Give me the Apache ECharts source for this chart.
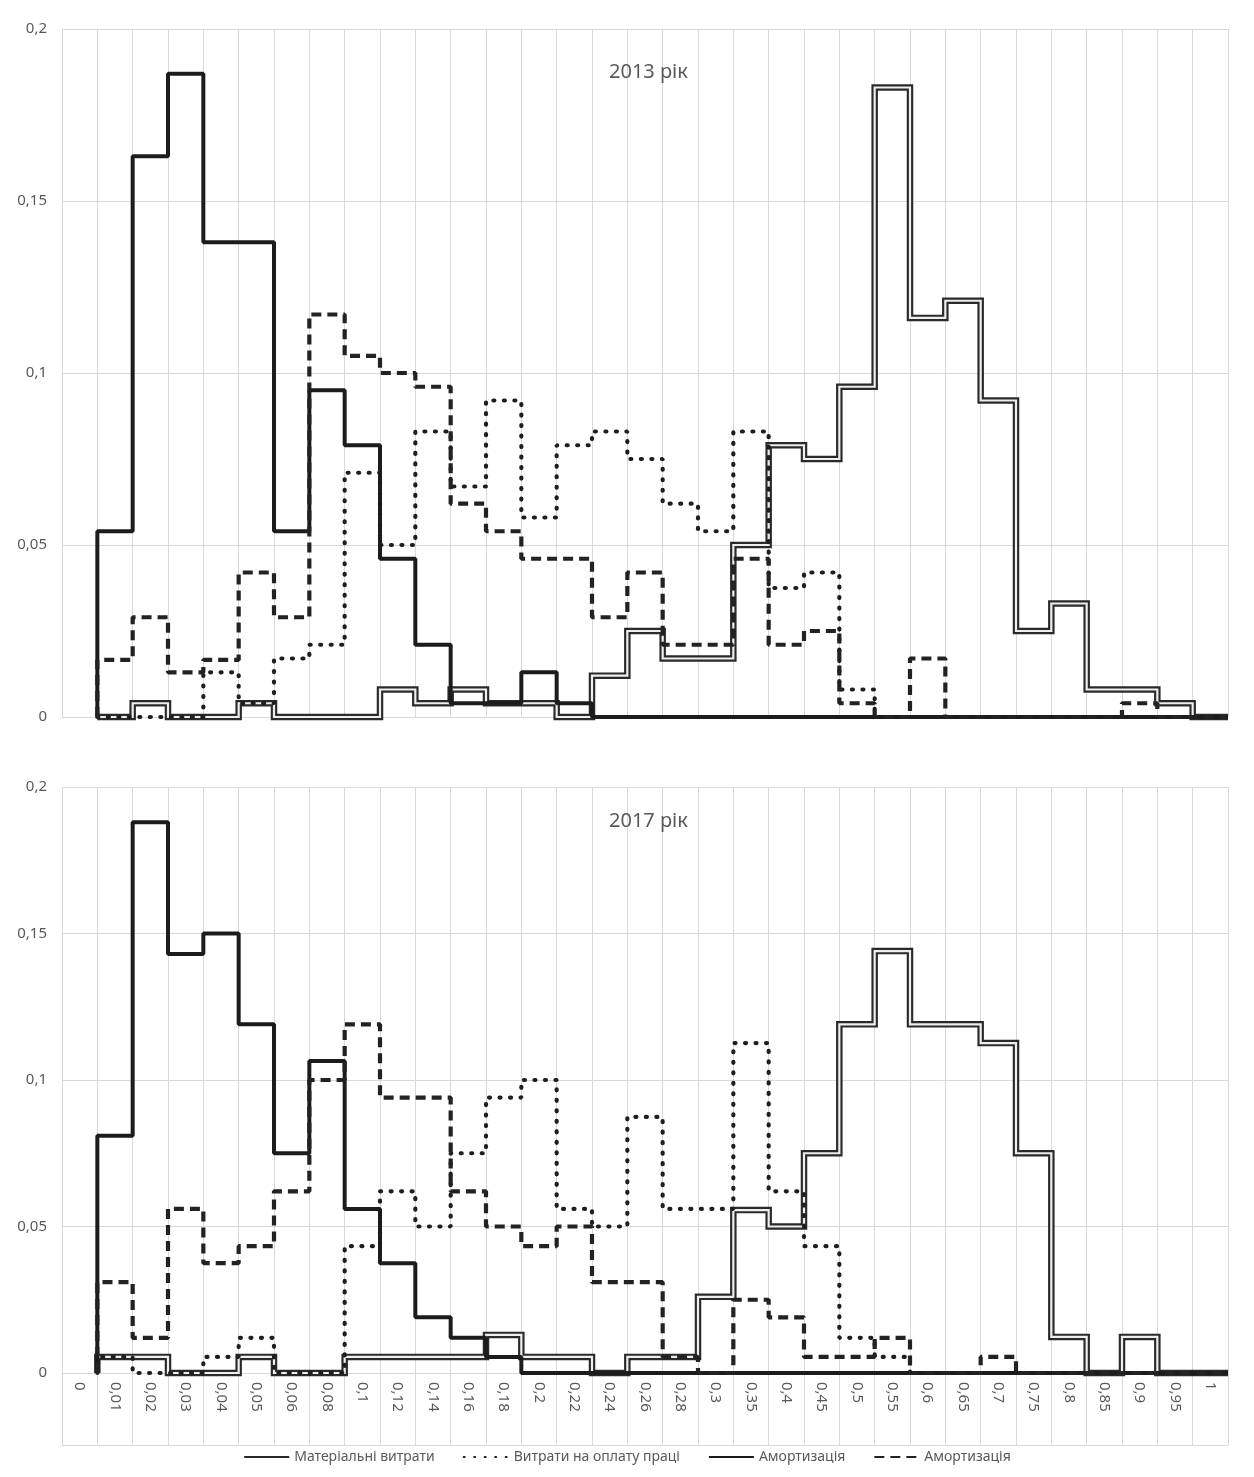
<!DOCTYPE html>
<html>
<head>
<meta charset="utf-8">
<script src="https://cdn.jsdelivr.net/npm/echarts@6/dist/echarts.min.js"></script>
<style>
html,body{margin:0;padding:0;background:#fff;}
#frame{position:absolute;left:6px;top:6px;width:1242px;height:1469px;border:1px solid #d9d9d9;box-sizing:border-box;}
#chart{position:absolute;left:0;top:0;width:1254px;height:1477px;}
</style>
</head>
<body>
<div id="frame"></div>
<div id="chart"></div>
<script>
// ---- data ----
const categories = ['0','0,01','0,02','0,03','0,04','0,05','0,06','0,08','0,1','0,12','0,14','0,16','0,18','0,2','0,22','0,24','0,26','0,28','0,3','0,35','0,4','0,45','0,5','0,55','0,6','0,65','0,7','0,75','0,8','0,85','0,9','0,95','1'];
const yearTitles = ['2013 рік', '2017 рік'];
const legendLabels = ['Матеріальні витрати', 'Витрати на оплату праці', 'Амортизація', 'Амортизація'];
const yTickValues = [0, 0.05, 0.1, 0.15, 0.2];

// 2013 (first entry = category "0", empty)
const material2013 = [null,0,0.004,0,0,0.004,0,0,0,0.008,0.004,0.008,0.004,0.004,0,0.012,0.025,0.017,0.017,0.050,0.079,0.075,0.096,0.183,0.116,0.121,0.092,0.025,0.033,0.008,0.008,0.004,0];
const labour2013   = [null,0,0,0,0.013,0.004,0.017,0.021,0.071,0.050,0.083,0.067,0.092,0.058,0.079,0.083,0.075,0.062,0.054,0.083,0.0375,0.042,0.008,0,0,0,0,0,0,0,0,0,0];
const amort2013    = [null,0.054,0.163,0.187,0.138,0.138,0.054,0.095,0.079,0.046,0.021,0.004,0.004,0.013,0.004,0,0,0,0,0,0,0,0,0,0,0,0,0,0,0,0,0,0];
const other2013    = [null,0.0166,0.029,0.013,0.0166,0.042,0.029,0.117,0.105,0.100,0.096,0.062,0.054,0.046,0.046,0.029,0.042,0.021,0.021,0.046,0.021,0.025,0.004,0,0.017,0,0,0,0,0,0.004,0,0];

// 2017
const material2017 = [null,0.0055,0.0055,0,0,0.0055,0,0,0.0055,0.0055,0.0055,0.0055,0.013,0.0055,0.0055,0,0.0055,0.0055,0.026,0.0556,0.050,0.075,0.119,0.144,0.119,0.119,0.1126,0.075,0.0123,0,0.0123,0,0];
const labour2017   = [null,0.0055,0,0,0.0055,0.012,0,0,0.0433,0.062,0.050,0.075,0.094,0.100,0.056,0.050,0.0874,0.056,0.056,0.1126,0.062,0.0433,0.012,0.0055,0,0,0,0,0,0,0,0,0];
const amort2017    = [null,0.081,0.188,0.143,0.150,0.119,0.075,0.1065,0.056,0.0375,0.019,0.012,0.0055,0,0,0,0,0,0,0,0,0,0,0,0,0,0,0,0,0,0,0,0];
const other2017    = [null,0.031,0.012,0.056,0.0375,0.0433,0.062,0.100,0.119,0.094,0.094,0.062,0.050,0.0433,0.050,0.031,0.031,0.0055,0,0.025,0.019,0.0055,0.0055,0.012,0,0,0.0055,0,0,0,0,0,0];

const panels = [
  {material: material2013, labour: labour2013, amort: amort2013, other: other2013},
  {material: material2017, labour: labour2017, amort: amort2017, other: other2017}
];

// ---- helpers ----
function stepPoints(vals) {
  const pts = [];
  let last = null;
  vals.forEach((v, i) => {
    if (v == null) return;
    if (!pts.length) pts.push([i, 0]);
    pts.push([i, v]);
    last = [i + 1, v];
  });
  if (last) pts.push(last);
  return pts;
}
const FONT = 'Noto Sans';
const GRID_C = '#d9d9d9';
const TXT_C = '#595959';
const keys = ['mat', 'lab', 'amo', 'oth'];

const grids = [
  {left: 62, right: 26, top: 29, height: 688},
  {left: 62, right: 26, top: 787, height: 586}
];

const xAxes = [];
const yAxes = [];
const series = [];

panels.forEach((p, g) => {
  xAxes.push({
    type: 'category', gridIndex: g, data: categories, boundaryGap: true,
    axisLine: {show: true, lineStyle: {color: GRID_C, width: 1}},
    axisTick: {show: g === 1, length: 72, interval: 0, lineStyle: {color: GRID_C}},
    axisLabel: {show: g === 1, interval: 0, rotate: -90, margin: 9, color: TXT_C, fontSize: 15, fontFamily: FONT},
    splitLine: {show: true, interval: 0, lineStyle: {color: GRID_C, width: 1}}
  });
  xAxes.push({type: 'value', gridIndex: g, min: 0, max: categories.length, show: false});
  yAxes.push({
    type: 'value', gridIndex: g, min: yTickValues[0], max: yTickValues[yTickValues.length - 1],
    interval: yTickValues[1] - yTickValues[0],
    axisLine: {show: false}, axisTick: {show: false},
    axisLabel: {color: TXT_C, fontSize: 15, fontFamily: FONT, margin: 15,
      formatter: v => String(+v.toFixed(2)).replace('.', ',')},
    splitLine: {lineStyle: {color: GRID_C, width: 1}}
  });
  const xi = g * 2 + 1;
  const common = {type: 'line', xAxisIndex: xi, yAxisIndex: g, step: 'end', symbol: 'none', clip: false, silent: true, animation: false};
  series.push(Object.assign({}, common, {name: 'mat', data: stepPoints(p.material), z: 2,
    lineStyle: {color: '#2a2a2a', width: 6.5, join: 'miter'}}));
  series.push(Object.assign({}, common, {name: 'matInner', data: stepPoints(p.material), z: 3,
    lineStyle: {color: '#eeeeee', width: 2.2, join: 'miter'}}));
  series.push(Object.assign({}, common, {name: 'lab', data: stepPoints(p.labour), z: 4,
    lineStyle: {color: '#1e1e1e', width: 4.2, type: [1, 9.5], cap: 'round'}}));
  series.push(Object.assign({}, common, {name: 'amo', data: stepPoints(p.amort), z: 5,
    lineStyle: {color: '#1c1c1c', width: 4}}));
  series.push(Object.assign({}, common, {name: 'oth', data: stepPoints(p.other), z: 6,
    lineStyle: {color: '#222', width: 4.2, type: [10, 6]}}));
});

xAxes.push({
  type: 'category', gridIndex: 1, data: categories, position: 'bottom', offset: 72,
  axisLine: {show: true, lineStyle: {color: GRID_C, width: 1}},
  axisTick: {show: false}, axisLabel: {show: false}, splitLine: {show: false}
});

const option = {
  animation: false,
  backgroundColor: '#fff',
  title: yearTitles.map((t, i) => ({
    text: t, left: 604, top: i === 0 ? 57 : 806,
    textStyle: {color: TXT_C, fontSize: 20, fontWeight: 'normal', fontFamily: FONT}
  })),
  legend: {
    data: keys, bottom: 8, left: 'center', itemWidth: 45, itemHeight: 10, itemGap: 28,
    formatter: n => legendLabels[keys.indexOf(n)],
    itemStyle: {opacity: 0},
    textStyle: {color: TXT_C, fontSize: 14, fontFamily: FONT}
  },
  grid: grids,
  xAxis: xAxes,
  yAxis: yAxes,
  series: series
};

const chart = echarts.init(document.getElementById('chart'), null, {renderer: 'canvas'});
chart.setOption(option);
</script>
</body>
</html>
